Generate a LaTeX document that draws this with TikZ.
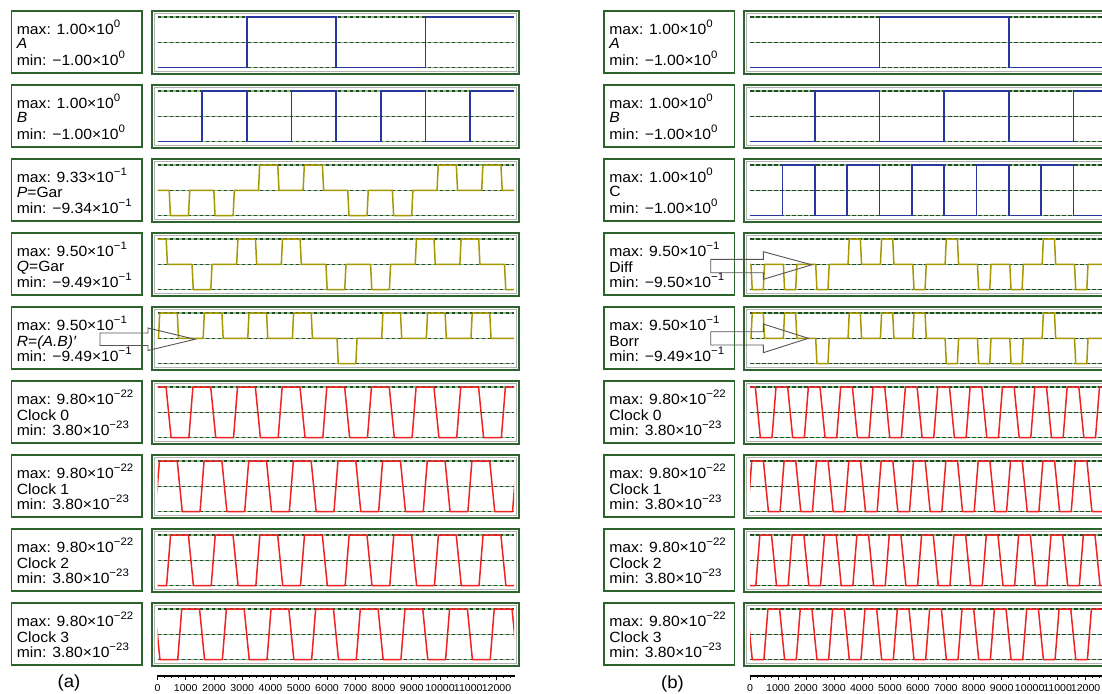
\documentclass[tikz,border=0pt]{standalone}
\usepackage{fontspec}
\setmainfont{Liberation Sans}[FakeStretch=1.06]
\definecolor{boxdark}{RGB}{45,100,45}
\definecolor{reflight}{RGB}{125,200,125}
\definecolor{refdark}{RGB}{40,70,40}
\definecolor{sigb}{RGB}{40,55,160}
\definecolor{sigo}{RGB}{165,152,0}
\definecolor{sigr}{RGB}{240,35,35}
\definecolor{arrowc}{RGB}{85,85,85}
\newcommand{\sups}[1]{\raisebox{6.9pt}{\fontsize{10.8}{10.8}\selectfont #1}}
\tikzset{
  lbl/.style={anchor=base west, inner sep=0pt, font=\fontsize{14.8}{16}\selectfont},
  lboxs/.style={draw=boxdark, line width=1.8pt, fill=white},
  pboxs/.style={draw=boxdark, line width=2pt},
  pboxin/.style={draw=black!30, line width=0.6pt},
  refl/.style={draw=reflight, line width=1.5pt},
  refd/.style={draw=refdark, line width=1.5pt, dash pattern=on 3.5pt off 2.5pt},
  sigab/.style={draw=sigb, line width=1.6pt},
  sigpq/.style={draw=sigo, line width=1.5pt, line join=round},
  sigclk/.style={draw=sigr, line width=1.5pt, line join=round},
  barrow/.style={draw=arrowc, line width=0.9pt, line join=miter},
  axline/.style={draw=black, line width=1.1pt},
  axtick/.style={draw=black, line width=0.6pt},
  axl/.style={anchor=center, inner sep=0pt, font=\fontsize{10}{10}\selectfont},
  panl/.style={anchor=center, inner sep=0pt, font=\fontsize{17.5}{18}\selectfont},
}
% label row: #1 name, #2 x, #3 y0, #4 max, #5 mid, #6 min, #7 mid baseline offset
\newcommand{\labelrow}[7]{%
  \draw[lboxs] (#2,#3+1) rectangle ++(130.5,62);
  \node[lbl] (#1max) at (#2+5.2,#3+24.5) {max: #4};
  \node[lbl] (#1mid) at (#2+5.2,#3+#7) {#5};
  \node[lbl] (#1min) at (#2+5.2,#3+55) {min: #6};
}
% plot frame: #1 y0, #2 box x1, #3 box x2, #4 inner x1, #5 inner x2
\newcommand{\plotframe}[5]{%
  \draw[pboxs] (#2,#1+1) rectangle (#3,#1+63.5);
  \draw[pboxin] (#2+2.5,#1+3.5) rectangle (#3-2.5,#1+61);
  \foreach \yy in {7,32.3,57.5} {
    \draw[refl] (#4,#1+\yy) -- (#5,#1+\yy);
    \draw[refd] (#4,#1+\yy) -- (#5,#1+\yy);
  }%
}
% pulses: #1 y0, #2 first start, #3 period, #4 width, #5 polarity list, #6 clip x1, #7 clip x2
\newcommand{\pulsesig}[7]{%
  \begin{scope}
    \clip (#6,#1) rectangle (#7,#1+64);
    \draw[sigpq] (#6-30,#1+32.3)
      \foreach \pp [count=\nn from 0] in {#5} {
        -- ({#2+\nn*#3},#1+32.3)
        -- ({#2+\nn*#3+1.2},{#1+32.3-(\pp)*25.2})
        -- ({#2+\nn*#3+#4-1.2},{#1+32.3-(\pp)*25.2})
        -- ({#2+\nn*#3+#4},#1+32.3)
      } -- (#7+30,#1+32.3);
  \end{scope}%
}
% clock: #1 y0, #2 rise centre, #3 period, #4 clip x1, #5 clip x2
\newcommand{\clocksig}[5]{%
  \begin{scope}
    \clip (#4,#1) rectangle (#5,#1+64);
    \draw[sigclk] ({#2-3*#3},#1+57.5)
      \foreach \nn in {-2,-1,0,1,2,3,4,5,6,7,8,9,10,11} {
        -- ({#2+\nn*#3-2},#1+57.5)
        -- ({#2+\nn*#3+2},#1+7)
        -- ({#2+\nn*#3+#3/2-2.5},#1+7)
        -- ({#2+\nn*#3+#3/2+2.5},#1+57.5)
      };
  \end{scope}%
}
% axis: #1 x0, #2 px per 1000, #3 name prefix
\newcommand{\timeaxis}[3]{%
  \draw[axline] (#1-0.5,676) -- ({#1+12.65*#2},676);
  \foreach \k in {0,...,50} {\draw[axtick] ({#1+\k*#2/4},676) -- ++(0,2.2);}
  \foreach \k in {0,...,12} {
    \draw[axtick] ({#1+\k*#2},676) -- ++(0,3.8);
    \node[axl] (#3\k) at ({#1+\k*#2},688.5) {\the\numexpr\k*1000\relax};
  }%
}
\begin{document}
\begin{tikzpicture}[x=1pt,y=-1pt]
\useasboundingbox (0,0) rectangle (1102,693);
\clip (0,0) rectangle (1102,693);
\fill[white] (0,0) rectangle (1102,693);

% ---------- frames ----------
\foreach \r in {10,84,158,232,306,380,454,528,602} {
  \plotframe{\r}{151.5}{519}{157.5}{514}
  \plotframe{\r}{744}{1111}{750}{1106}
}

% ---------- panel (a) signals ----------
\draw[sigab] (157.5,67.5) -- (247,67.5) -- (247,17) -- (336,17) -- (336,67.5)
  -- (425.5,67.5) -- (425.5,17) -- (514,17);
\draw[sigab] (157.5,141.5) -- (202,141.5) -- (202,91) -- (247,91) -- (247,141.5)
  -- (291.5,141.5) -- (291.5,91) -- (336,91) -- (336,141.5) -- (381,141.5)
  -- (381,91) -- (425.5,91) -- (425.5,141.5) -- (470,141.5) -- (470,91) -- (514,91);
\pulsesig{158}{169.2}{44.64}{20.5}{-1,-1,1,1,-1,-1,1,1}{157.5}{514}
\pulsesig{232}{147.4}{44.64}{20}{1,-1,1,1,-1,-1,1,1,-1}{157.5}{514}
\pulsesig{306}{158.5}{44.64}{20}{1,1,1,1,-1,1,1,1}{157.5}{514}
\clocksig{380}{190.9}{44.64}{157.5}{514}
\clocksig{454}{202.06}{44.64}{157.5}{514}
\clocksig{528}{213.22}{44.64}{157.5}{514}
\clocksig{602}{224.38}{44.64}{157.5}{514}

% ---------- panel (b) signals ----------
\draw[sigab] (750,67.5) -- (879.5,67.5) -- (879.5,17) -- (1009,17) -- (1009,67.5) -- (1111,67.5);
\draw[sigab] (750,141.5) -- (815,141.5) -- (815,91) -- (879.5,91) -- (879.5,141.5)
  -- (944,141.5) -- (944,91) -- (1009,91) -- (1009,141.5) -- (1073.5,141.5)
  -- (1073.5,91) -- (1111,91);
\draw[sigab] (750,215.5) -- (782.5,215.5) -- (782.5,165) -- (815,165) -- (815,215.5)
  -- (847,215.5) -- (847,165) -- (879.5,165) -- (879.5,215.5) -- (912,215.5)
  -- (912,165) -- (944,165) -- (944,215.5) -- (976.5,215.5) -- (976.5,165)
  -- (1009,165) -- (1009,215.5) -- (1041,215.5) -- (1041,165) -- (1073.5,165)
  -- (1073.5,215.5) -- (1106,215.5) -- (1106,165) -- (1111,165);
\pulsesig{232}{751}{32.35}{13.5}{-1,-1,-1,1,1,-1,1,-1,-1,1,-1}{750}{1106}
\pulsesig{306}{751}{32.35}{13.5}{1,1,-1,1,1,1,-1,-1,-1,1,-1}{750}{1106}
\clocksig{380}{774}{32.35}{750}{1106}
\clocksig{454}{782.09}{32.35}{750}{1106}
\clocksig{528}{790.18}{32.35}{750}{1106}
\clocksig{602}{798.26}{32.35}{750}{1106}

% ---------- label boxes (a) ----------
\labelrow{a1}{11.5}{10}{1.00×10\sups{0}}{\textit{A}}{−1.00×10\sups{0}}{38.5}
\labelrow{a2}{11.5}{84}{1.00×10\sups{0}}{\textit{B}}{−1.00×10\sups{0}}{38.5}
\labelrow{a3}{11.5}{158}{9.33×10\sups{−1}}{\textit{P}=Gar}{−9.34×10\sups{−1}}{39.5}
\labelrow{a4}{11.5}{232}{9.50×10\sups{−1}}{\textit{Q}=Gar}{−9.49×10\sups{−1}}{39.5}
\labelrow{a5}{11.5}{306}{9.50×10\sups{−1}}{\textit{R}=\textit{(A.B)′}}{−9.49×10\sups{−1}}{40.5}
\labelrow{a6}{11.5}{380}{9.80×10\sups{−22}}{Clock 0}{3.80×10\sups{−23}}{40}
\labelrow{a7}{11.5}{454}{9.80×10\sups{−22}}{Clock 1}{3.80×10\sups{−23}}{40}
\labelrow{a8}{11.5}{528}{9.80×10\sups{−22}}{Clock 2}{3.80×10\sups{−23}}{40}
\labelrow{a9}{11.5}{602}{9.80×10\sups{−22}}{Clock 3}{3.80×10\sups{−23}}{40}

% ---------- label boxes (b) ----------
\labelrow{b1}{604}{10}{1.00×10\sups{0}}{\textit{A}}{−1.00×10\sups{0}}{38.5}
\labelrow{b2}{604}{84}{1.00×10\sups{0}}{\textit{B}}{−1.00×10\sups{0}}{38.5}
\labelrow{b3}{604}{158}{1.00×10\sups{0}}{C}{−1.00×10\sups{0}}{38.5}
\labelrow{b4}{604}{232}{9.50×10\sups{−1}}{Diff}{−9.50×10\sups{−1}}{40.5}
\labelrow{b5}{604}{306}{9.50×10\sups{−1}}{Borr}{−9.49×10\sups{−1}}{40.5}
\labelrow{b6}{604}{380}{9.80×10\sups{−22}}{Clock 0}{3.80×10\sups{−23}}{40}
\labelrow{b7}{604}{454}{9.80×10\sups{−22}}{Clock 1}{3.80×10\sups{−23}}{40}
\labelrow{b8}{604}{528}{9.80×10\sups{−22}}{Clock 2}{3.80×10\sups{−23}}{40}
\labelrow{b9}{604}{602}{9.80×10\sups{−22}}{Clock 3}{3.80×10\sups{−23}}{40}

% ---------- block arrows ----------
\draw[barrow] (100,333) -- (148,333) -- (148,328) -- (195,339.3) -- (148,350.5)
  -- (148,345.5) -- (100,345.5) -- cycle;
\draw[barrow] (710.7,259.3) -- (763.3,259.3) -- (763.3,251.7) -- (811.7,264.8)
  -- (763.3,279.3) -- (763.3,272.7) -- (710.7,272.7) -- cycle;
\draw[barrow] (710.7,331.7) -- (763.3,331.7) -- (763.3,324) -- (808.3,338.3)
  -- (763.3,352.7) -- (763.3,345) -- (710.7,345) -- cycle;

% ---------- axes and captions ----------
\timeaxis{157.5}{28.25}{axa}
\timeaxis{750}{27.97}{axb}
\node[panl] (capa) at (69,683) {(a)};
\node[panl] (capb) at (672.5,684) {(b)};
\end{tikzpicture}
\end{document}
